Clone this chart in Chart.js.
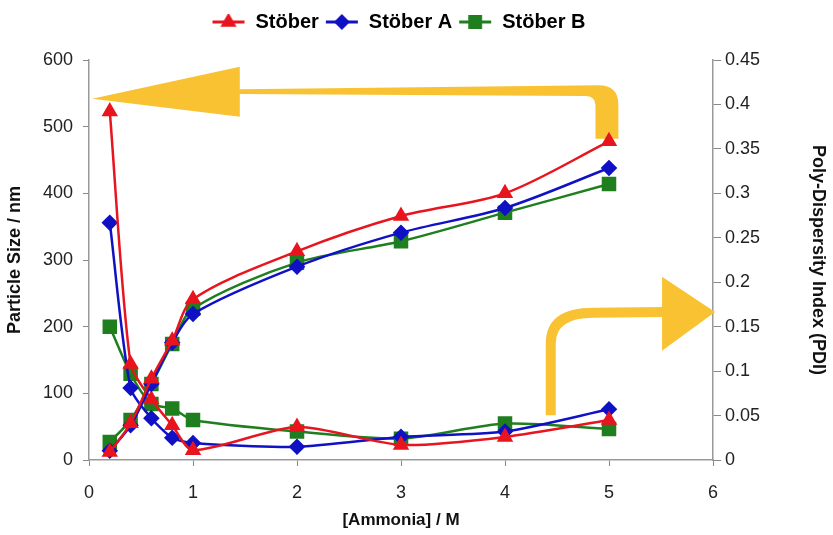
<!DOCTYPE html>
<html>
<head>
<meta charset="utf-8">
<script src="https://cdn.jsdelivr.net/npm/chart.js@4.4.1/dist/chart.umd.min.js"></script>
<style>
  html, body { margin: 0; padding: 0; background: #fff; }
  #wrap { width: 833px; height: 535px; }
</style>
</head>
<body>
<div id="wrap"><canvas id="chart"></canvas></div>
<script>
// [Ammonia] / M
const ammonia = [0.2, 0.4, 0.6, 0.8, 1, 2, 3, 4, 5];

// particle size / nm (left axis)
const sizeStober = [12, 55, 122, 179, 241, 313, 366, 400, 478];
const sizeStoberA = [14, 52, 114, 176, 219, 290, 341, 378, 438];
const sizeStoberB = [27, 60, 114, 174, 227, 296, 328, 371, 414];

// PDI (right axis)
const pdiStober = [0.392, 0.108, 0.068, 0.039, 0.011, 0.037, 0.017, 0.026, 0.045];
const pdiStoberA = [0.267, 0.081, 0.047, 0.025, 0.019, 0.015, 0.026, 0.032, 0.057];
const pdiStoberB = [0.15, 0.097, 0.063, 0.058, 0.045, 0.032, 0.024, 0.041, 0.035];

const seriesNames = ["Stöber", "Stöber A", "Stöber B"];
const colors = ["#e8141e", "#1010c4", "#1f7f1f"];
const markers = ["triangle", "rectRot", "rect"];
const radii = [7, 6.5, 8.5];

// annotation arrows, in axis units (x, left axis)
const arrowLeft = { tip: [0.03, 542], headX: 1.45, headTop: 590, headBot: 515 };
const arrowRight = { start: [4.44, 67], corner: [4.44, 221], headX: 5.51, tip: [6.02, 222], headTop: 275, headBot: 164 };

const toPts = arr => arr.map((v, i) => ({ x: ammonia[i], y: v }));

function legendIcon(color, style, r) {
  const c = document.createElement("canvas");
  c.width = 34; c.height = 16;
  const ctx = c.getContext("2d");
  ctx.strokeStyle = color; ctx.lineWidth = 3;
  ctx.beginPath(); ctx.moveTo(1, 8); ctx.lineTo(33, 8); ctx.stroke();
  ctx.fillStyle = color;
  Chart.helpers.drawPoint(ctx, { pointStyle: style, radius: r * 0.9, rotation: 0, borderWidth: 1 }, 17, 8);
  return c;
}

const datasets = [];
[sizeStober, sizeStoberA, sizeStoberB].forEach((d, i) => {
  datasets.push({
    label: seriesNames[i], data: toPts(d), yAxisID: "y",
    borderColor: colors[i], backgroundColor: colors[i],
    legendStyle: legendIcon(colors[i], markers[i], radii[i]),
    borderWidth: 2.5, tension: 0.3
  });
});
[pdiStober, pdiStoberA, pdiStoberB].forEach((d, i) => {
  datasets.push({
    label: seriesNames[i] + " PDI", data: toPts(d), yAxisID: "y1",
    borderColor: colors[i], backgroundColor: colors[i],
    borderWidth: 2.5, tension: 0.25
  });
});

// more room under the legend, and legend nudged a little to the left
const legendGap = {
  id: "legendGap",
  beforeInit(chart) {
    const fit = chart.legend.fit;
    chart.legend.fit = function () { fit.call(this); this.height += 18; };
  },
  afterLayout(chart) {
    chart.legend.left -= 18;
    chart.legend.right -= 18;
  }
};

const arrowPlugin = {
  id: "arrows",
  beforeDatasetsDraw(chart) {
    const { ctx, scales: { x, y } } = chart;
    const X = v => x.getPixelForValue(v), Y = v => y.getPixelForValue(v);
    ctx.save();
    ctx.fillStyle = "#f8c232";
    ctx.strokeStyle = "#f8c232";
    // big arrow pointing to the left axis
    const a = arrowLeft;
    const hx = X(a.headX);
    ctx.beginPath();
    ctx.moveTo(X(a.tip[0]), Y(a.tip[1]));
    ctx.lineTo(hx, Y(a.headTop));
    ctx.lineTo(hx, Y(556));
    ctx.lineTo(X(4.9), Y(562));
    ctx.quadraticCurveTo(X(5.09), Y(562), X(5.09), Y(533));
    ctx.lineTo(X(5.09), Y(482));
    ctx.lineTo(X(4.87), Y(482));
    ctx.lineTo(X(4.87), Y(532));
    ctx.quadraticCurveTo(X(4.87), Y(545), X(4.78), Y(546));
    ctx.lineTo(hx, Y(549));
    ctx.lineTo(hx, Y(a.headBot));
    ctx.closePath();
    ctx.fill();
    // bent arrow pointing to the right axis
    const b = arrowRight;
    ctx.lineWidth = 10;
    ctx.beginPath();
    ctx.moveTo(X(b.start[0]), Y(b.start[1]));
    ctx.lineTo(X(b.corner[0]), Y(175));
    ctx.quadraticCurveTo(X(b.corner[0]), Y(b.corner[1]), X(4.85), Y(b.corner[1]));
    ctx.lineTo(X(b.headX) + 1, Y(b.tip[1]));
    ctx.stroke();
    ctx.beginPath();
    ctx.moveTo(X(b.headX), Y(b.headTop));
    ctx.lineTo(X(b.tip[0]), Y(b.tip[1]));
    ctx.lineTo(X(b.headX), Y(b.headBot));
    ctx.closePath();
    ctx.fill();
    ctx.restore();
  }
};

const tickFont = { family: "'Liberation Sans', Arial", size: 18 };
const titleFont = { family: "'Liberation Sans', Arial", size: 18, weight: "bold" };

new Chart(document.getElementById("chart"), {
  type: "line",
  data: { datasets },
  options: {
    responsive: true,
    maintainAspectRatio: false,
    animation: false,
    layout: { padding: { top: 6, left: 0, right: 0, bottom: 0 } },
    elements: {
      point: { radius: ctx => radii[ctx.datasetIndex % 3], hoverRadius: 7,
               pointStyle: ctx => markers[ctx.datasetIndex % 3], borderWidth: 1 },
      line: { fill: false }
    },
    plugins: {
      tooltip: { enabled: false },
      legend: {
        position: "top",
        labels: {
          usePointStyle: true,
          pointStyleWidth: 34,
          boxHeight: 14,
          padding: 6,
          color: "#111",
          font: { family: "'Liberation Sans', Arial", size: 20, weight: "bold" },
          generateLabels: chart => chart.data.datasets.slice(0, 3).map((ds, i) => ({
            text: ds.label, datasetIndex: i, pointStyle: ds.legendStyle,
            fillStyle: ds.borderColor, strokeStyle: ds.borderColor, lineWidth: 0, hidden: false
          }))
        }
      }
    },
    scales: {
      x: {
        type: "linear", min: 0, max: 6,
        ticks: { stepSize: 1, color: "#222", font: tickFont, padding: 16 },
        grid: { display: true, drawOnChartArea: false, color: "#888", tickLength: 6 },
        border: { color: "#999", width: 1.5 },
        title: { display: true, text: "[Ammonia] / M", color: "#111", font: { ...titleFont, size: 17 }, padding: { top: 0 } },
        afterFit: s => { s.height = 75; }
      },
      y: {
        position: "left", min: 0, max: 600,
        ticks: { stepSize: 100, color: "#222", font: tickFont, padding: 10 },
        grid: { display: true, drawOnChartArea: false, color: "#888", tickLength: 6 },
        border: { color: "#999", width: 1.5 },
        title: { display: true, text: "Particle Size / nm", color: "#111", font: titleFont },
        afterFit: s => { s.width = 89; }
      },
      y1: {
        position: "right", min: 0, max: 0.45,
        ticks: { stepSize: 0.05, color: "#222", font: tickFont, padding: 4,
                 callback: v => +v.toFixed(2) },
        grid: { display: true, drawOnChartArea: false, color: "#888", tickLength: 8 },
        border: { color: "#999", width: 1.5 },
        title: { display: true, text: "Poly-Dispersity Index (PDI)", color: "#111", font: titleFont, padding: { bottom: 6 } },
        afterFit: s => { s.width = 120; }
      }
    }
  },
  plugins: [legendGap, arrowPlugin]
});
</script>
</body>
</html>
